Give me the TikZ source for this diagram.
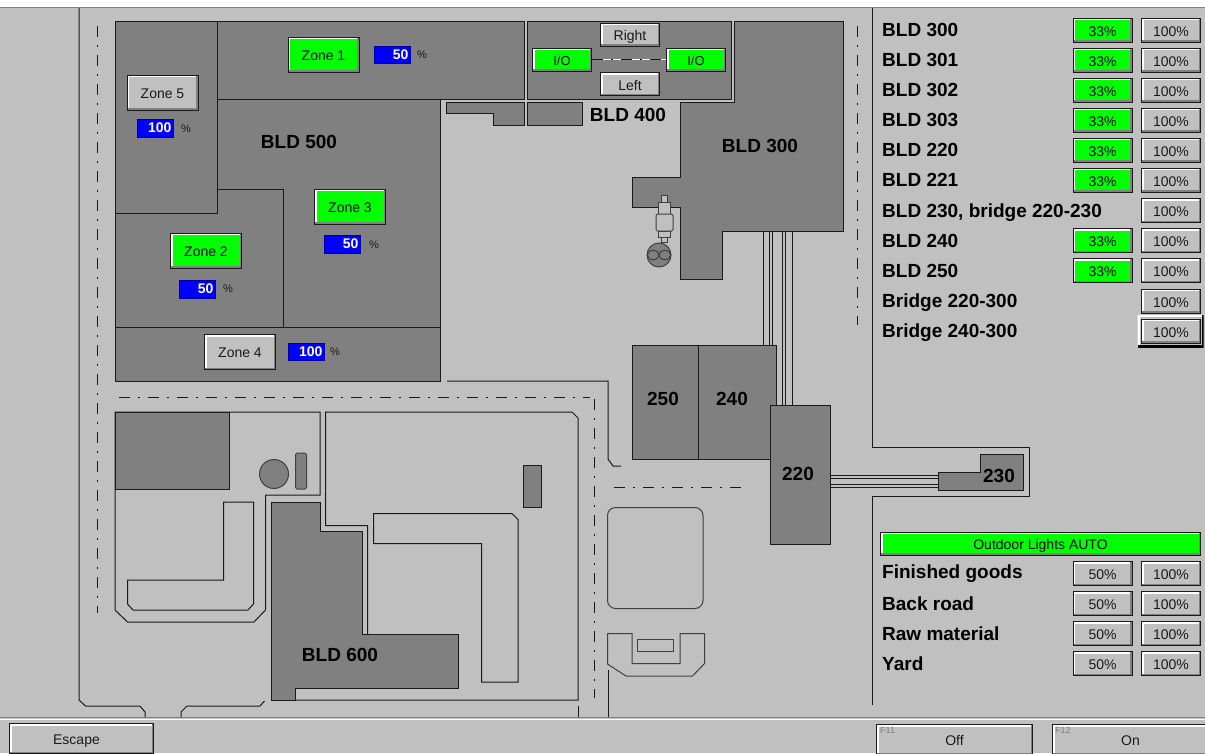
\documentclass[tikz,border=0pt]{standalone}
\usepackage{fontspec}
\setmainfont{Liberation Sans}
\definecolor{panel}{HTML}{C0C0C0}
\definecolor{block}{HTML}{808080}
\definecolor{lamp}{HTML}{00FF00}
\definecolor{edge}{HTML}{1A1A1A}
\definecolor{softedge}{HTML}{404040}
\tikzset{
    road/.style={edge,line width=1pt},
    softroad/.style={softedge,line width=1pt},
    house/.style={draw=edge,fill=block,line width=1pt},
    fence/.style={edge,line width=1pt,dash pattern=on 11pt off 7.5pt on 2.5pt off 8pt},
    bevel/.style 2 args={path picture={
        \draw[#1,line width=4pt] (path picture bounding box.south west) -- (path picture bounding box.north west) -- (path picture bounding box.north east);
        \draw[#2,line width=4pt] (path picture bounding box.south west) -- (path picture bounding box.south east) -- (path picture bounding box.north east);
    }},
    btn/.style={draw=edge,line width=1pt,fill=panel,inner sep=0pt,text=edge,text height=12pt,text depth=0pt,font=\fontsize{14pt}{16pt}\selectfont,bevel={white}{block}},
    lit/.style={btn,fill=lamp,text=black},
    zonebtn/.style={btn,minimum width=71pt,minimum height=35pt,text height=11pt},
    zonelit/.style={lit,minimum width=71pt,minimum height=35pt,text height=11pt},
    smallbtn/.style={btn,minimum width=59pt,minimum height=23pt},
    smalllit/.style={lit,minimum width=59pt,minimum height=23pt,font=\fontsize{13pt}{15pt}\selectfont},
    stepbtn/.style={btn,minimum width=59pt,minimum height=24pt},
    steplit/.style={lit,minimum width=59pt,minimum height=24pt},
    valuebox/.style={fill=blue,draw=blue!60!black,line width=.5pt,text=white,inner xsep=1.5pt,inner ysep=0pt,text width=33pt,align=right,minimum height=17.5pt,font=\fontsize{14pt}{16pt}\selectfont\bfseries},
    pct/.style={text=edge,inner sep=0pt,font=\fontsize{11pt}{13pt}\selectfont},
    bldlabel/.style={text=black,inner sep=0pt,font=\fontsize{19pt}{21pt}\selectfont\bfseries},
    rowlabel/.style={bldlabel,anchor=base west},
    barbtn/.style={btn,minimum width=156pt,minimum height=30pt,anchor=north west},
    fkey/.style={text=block,inner sep=0pt,anchor=west,font=\fontsize{9pt}{11pt}\selectfont}
}
\begin{document}
\begin{tikzpicture}[x=1pt,y=-1pt]
    \clip (0,0) rectangle (1205,753);
    \fill[white] (0,0) rectangle (1205,753);
    \fill[panel] (0,8) rectangle (1205,753);
    \draw[block,line width=1pt] (0,7.5) -- (1205,7.5);
    \draw[block,line width=1pt] (0,717.5) -- (1205,717.5);
    \draw[white,line width=1pt] (0,719) -- (1205,719);

    \draw[road] (79,8) -- (79,700) -- (85.5,706) -- (140,706) -- (145,712) -- (145,717);
    \draw[road] (181,717) -- (181,712) -- (187,706) -- (260,706) -- (264.5,701);
    \draw[road] (447,381) -- (608,381) -- (608,459) -- (613,466) -- (621,466);
    \draw[road] (872,8) -- (872,447) -- (1029,447) -- (1029,496) -- (872,496) -- (872,705);
    \draw[road] (578,706) -- (578,717);
    \draw[road] (608,670) -- (608,717);
    \draw[fence] (97,26) -- (97,613);
    \draw[fence] (857,26) -- (857,325);
    \draw[fence] (119,397) -- (590,397);
    \draw[fence] (594,399) -- (594,698);
    \draw[fence] (614,487) -- (741,487);

    \draw[house] (115,21) rectangle (440,381);
    \draw[house] (217,21) rectangle (524,99);
    \draw[road] (115,213) -- (217,213) -- (217,99);
    \draw[road] (217,189) -- (283,189) -- (283,327);
    \draw[road] (115,327) -- (440,327);
    \draw[house] (446,102) -- (524,102) -- (524,125) -- (493,125) -- (493,113) -- (446,113) -- cycle;
    \draw[house] (527,21) rectangle (731,99);
    \draw[house] (527,102) rectangle (582,125);
    \draw[house] (734,21) -- (843,21) -- (843,231) -- (722,231) -- (722,279) -- (680,279) -- (680,207) -- (632,207) -- (632,177) -- (680,177) -- (680,102) -- (734,102) -- cycle;

    \draw[road] (763,231) -- (763,345);
    \draw[road] (769,231) -- (769,345);
    \draw[road] (772,231) -- (772,345);
    \draw[road] (782,231) -- (782,405);
    \draw[road] (785,231) -- (785,405);
    \draw[road] (792,231) -- (792,405);
    \draw[road] (830,475) -- (938,475);
    \draw[road] (830,478) -- (938,478);
    \draw[road] (830,484) -- (938,484);
    \draw[road] (830,487) -- (938,487);

    \draw[house] (632,345) rectangle (776,459);
    \draw[road] (698,345) -- (698,459);
    \draw[house] (770,405) rectangle (830,544);
    \draw[house] (938,472) -- (980,472) -- (980,454) -- (1023,454) -- (1023,490) -- (938,490) -- cycle;

    \draw[softroad,fill=panel] (661,195) rectangle (667,202);
    \draw[softroad,fill=panel] (658,202) rectangle (670,214);
    \draw[softroad,fill=panel] (658,231) rectangle (670,237);
    \draw[softroad,fill=panel] (661,237) rectangle (667,242);
    \draw[softroad,fill=panel,rounded corners=1.5pt] (656,214) rectangle (673,231);
    \draw[softroad,fill=block] (659,255) circle (12);
    \draw[softroad] (653.2,255) ellipse (5.8 and 4.7);
    \draw[softroad] (664.8,255) ellipse (5.8 and 4.7);

    \draw[road] (115,412) -- (320,412) -- (320,495) -- (265.5,495) -- (265.5,610) -- (254,622) -- (127.5,622) -- (115,610) -- cycle;
    \draw[house] (115,412) rectangle (229,489);
    \draw[road] (223.5,502) -- (253.5,502) -- (253.5,604) -- (248,610) -- (133,610) -- (127.5,604) -- (127.5,580) -- (223.5,580) -- cycle;
    \draw[softroad,fill=block] (274,474) circle (14.5);
    \draw[softroad,fill=block,rounded corners=1.5pt] (295.5,453) rectangle (306.5,489);
    \draw[road] (367.5,634) -- (367.5,525.5) -- (325.5,525.5) -- (325.5,412) -- (572,412) -- (578,418) -- (578,700) -- (295.5,700);
    \draw[house] (271.5,502) -- (320,502) -- (320,531.5) -- (362,531.5) -- (362,634) -- (458,634) -- (458,688) -- (295.5,688) -- (295.5,700) -- (271.5,700) -- cycle;
    \draw[road] (373.5,513.5) -- (512,513.5) -- (518,519.5) -- (518,682) -- (481.5,682) -- (481.5,543.5) -- (373.5,543.5) -- cycle;
    \draw[house] (523.5,465) rectangle (541,507);
    \draw[softroad,rounded corners=8pt] (607.5,507.5) rectangle (703,608.5);
    \draw[softroad] (607.5,633.5) -- (632,633.5) -- (632,663.5) -- (680,663.5) -- (680,633.5) -- (704.5,633.5) -- (704.5,663.5) -- (692.5,676) -- (626,676) -- (607.5,664) -- cycle;
    \draw[softroad] (637.5,639.5) rectangle (673,651);

    \node[zonelit] (zone1) at (323.5,54.5) {Zone 1};
    \node[zonebtn] (zone5) at (162.5,92.5) {Zone 5};
    \node[zonelit] (zone3) at (350,206.5) {Zone 3};
    \node[zonelit] (zone2) at (206,250.5) {Zone 2};
    \node[zonebtn] (zone4) at (240,352) {Zone 4};
    \node[valuebox] (val1) at (392,54.5) {50};
    \node[valuebox] (val5) at (155,128) {100};
    \node[valuebox] (val3) at (342,244) {50};
    \node[valuebox] (val2) at (197,289) {50};
    \node[valuebox] (val4) at (306,351.5) {100};
    \node[pct] (pct1) at (422,55) {\%};
    \node[pct] (pct5) at (186,129) {\%};
    \node[pct] (pct3) at (374,245) {\%};
    \node[pct] (pct2) at (228,289) {\%};
    \node[pct] (pct4) at (335,352) {\%};

    \node[bldlabel] (bld500) at (299,142) {BLD 500};
    \node[bldlabel] (bld400) at (628,115) {BLD 400};
    \node[bldlabel] (bld300) at (760,146) {BLD 300};
    \node[bldlabel] (bld600) at (340,655) {BLD 600};
    \node[bldlabel] (bld250) at (663,399) {250};
    \node[bldlabel] (bld240) at (732,399) {240};
    \node[bldlabel] (bld220) at (798,474) {220};
    \node[bldlabel] (bld230) at (999,476) {230};

    \node[smallbtn] (right) at (630,34.5) {Right};
    \node[smallbtn] (left) at (630,84) {Left};
    \node[smalllit] (iol) at (562,59.5) {I/O};
    \node[smalllit] (ior) at (696,59.5) {I/O};
    \draw[white,line width=1pt] (iol) -- (ior);
    \draw[fence] (iol) -- (ior);

    \node[rowlabel] (row1) at (882,36.5) {BLD 300};
    \node[rowlabel] (row2) at (882,66.5) {BLD 301};
    \node[rowlabel] (row3) at (882,96.5) {BLD 302};
    \node[rowlabel] (row4) at (882,126.5) {BLD 303};
    \node[rowlabel] (row5) at (882,156.5) {BLD 220};
    \node[rowlabel] (row6) at (882,186.5) {BLD 221};
    \node[rowlabel] (row7) at (882,217) {BLD 230, bridge 220-230};
    \node[rowlabel] (row8) at (882,247) {BLD 240};
    \node[rowlabel] (row9) at (882,277) {BLD 250};
    \node[rowlabel] (row10) at (882,307.5) {Bridge 220-300};
    \node[rowlabel] (row11) at (882,337.5) {Bridge 240-300};
    \node[steplit] (low1) at (1102.5,30) {33\%};
    \node[steplit] (low2) at (1102.5,60) {33\%};
    \node[steplit] (low3) at (1102.5,90) {33\%};
    \node[steplit] (low4) at (1102.5,120) {33\%};
    \node[steplit] (low5) at (1102.5,150) {33\%};
    \node[steplit] (low6) at (1102.5,180) {33\%};
    \node[steplit] (low8) at (1102.5,240.5) {33\%};
    \node[steplit] (low9) at (1102.5,270.5) {33\%};
    \node[stepbtn] (full1) at (1171,30) {100\%};
    \node[stepbtn] (full2) at (1171,60) {100\%};
    \node[stepbtn] (full3) at (1171,90) {100\%};
    \node[stepbtn] (full4) at (1171,120) {100\%};
    \node[stepbtn] (full5) at (1171,150) {100\%};
    \node[stepbtn] (full6) at (1171,180) {100\%};
    \node[stepbtn] (full7) at (1171,210.5) {100\%};
    \node[stepbtn] (full8) at (1171,240.5) {100\%};
    \node[stepbtn] (full9) at (1171,270.5) {100\%};
    \node[stepbtn] (full10) at (1171,301) {100\%};
    \node[inner sep=0pt,minimum width=66pt,minimum height=32pt,bevel={white}{black}] (focus) at (1170.5,331) {};
    \node[stepbtn] (full11) at (1171,331) {100\%};

    \node[lit,minimum width=320pt,minimum height=23pt] (outdoor) at (1040.5,543.5) {Outdoor Lights AUTO};
    \node[rowlabel] (out1) at (882,578) {Finished goods};
    \node[rowlabel] (out2) at (882,610) {Back road};
    \node[rowlabel] (out3) at (882,640) {Raw material};
    \node[rowlabel] (out4) at (882,670) {Yard};
    \node[stepbtn] (half1) at (1102.5,573.5) {50\%};
    \node[stepbtn] (half2) at (1102.5,603.5) {50\%};
    \node[stepbtn] (half3) at (1102.5,633.5) {50\%};
    \node[stepbtn] (half4) at (1102.5,663.5) {50\%};
    \node[stepbtn] (fullo1) at (1171,573.5) {100\%};
    \node[stepbtn] (fullo2) at (1171,603.5) {100\%};
    \node[stepbtn] (fullo3) at (1171,633.5) {100\%};
    \node[stepbtn] (fullo4) at (1171,663.5) {100\%};

    \node[barbtn,minimum width=144pt] (escape) at (9,723) {Escape\hspace*{10pt}};
    \node[barbtn] (off) at (876,724) {Off};
    \node[barbtn] (on) at (1052,724) {On};
    \node[fkey] (f11) at (880,730) {F11};
    \node[fkey] (f12) at (1055,730) {F12};
\end{tikzpicture}
\end{document}
